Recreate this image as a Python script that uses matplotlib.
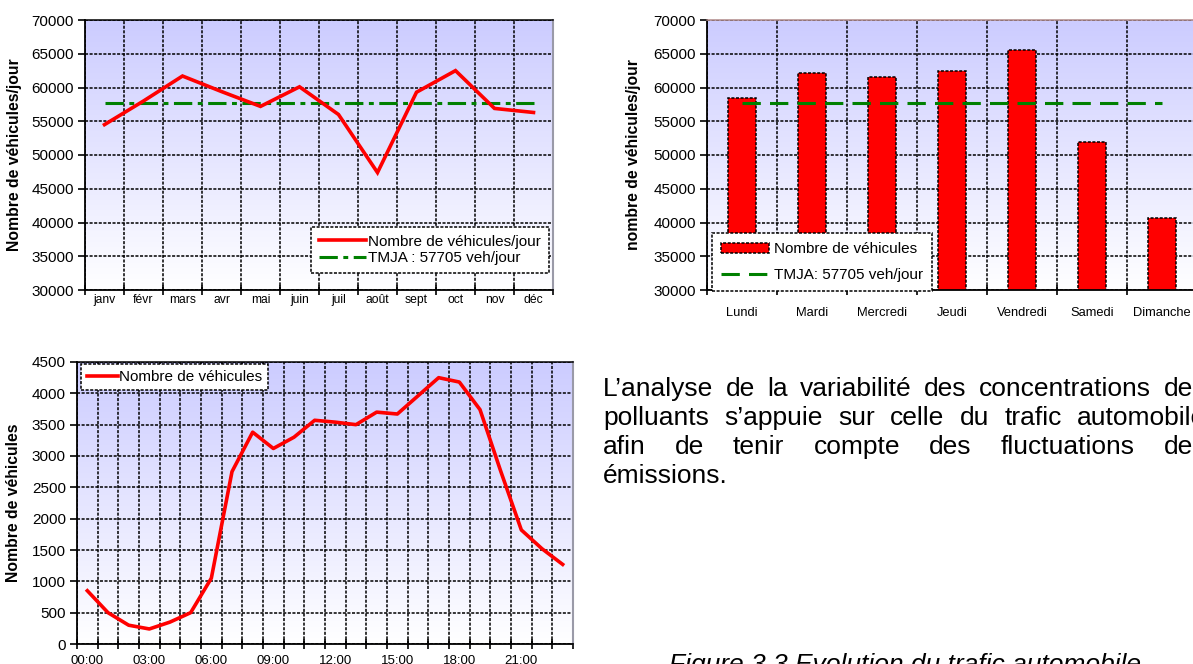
import matplotlib
matplotlib.use('Agg')
import matplotlib.pyplot as plt
import numpy as np

plt.rcParams['font.family'] = ['Liberation Sans', 'DejaVu Sans']

# monthly traffic (Nombre de vehicules/jour)
months = ['janv', 'févr', 'mars', 'avr', 'mai', 'juin', 'juil', 'août', 'sept', 'oct', 'nov', 'déc']
monthly_vehicles = [54500, 58000, 61700, 59400, 57200, 60100, 56000, 47400, 59300, 62500, 56900, 56300]
tmja = 57705

# weekly traffic
days = ['Lundi', 'Mardi', 'Mercredi', 'Jeudi', 'Vendredi', 'Samedi', 'Dimanche']
daily_vehicles = [58500, 62100, 61500, 62400, 65600, 52000, 40700]

# hourly traffic
hours = ['%02d:00' % h for h in range(24)]
hourly_vehicles = [850, 500, 300, 240, 350, 500, 1050, 2750, 3380, 3120, 3300, 3570,
                   3540, 3500, 3700, 3670, 3960, 4250, 4180, 3740, 2760, 1820, 1520, 1270]

paragraph_lines = [
    "L\u2019analyse de la variabilité des concentrations des",
    "polluants s\u2019appuie sur celle du trafic automobile",
    "afin de tenir compte des fluctuations des",
    "émissions.",
]
caption = "Figure 3.3 Evolution du trafic automobile"

W, H = 1193, 664
RED = '#ff0000'
GREEN = '#008000'
GRID_LS = (0, (2, 1))

fig = plt.figure(figsize=(W / 100, H / 100), dpi=100)


def px_axes(x0, y0, x1, y1):
    return fig.add_axes([x0 / W, 1 - y1 / H, (x1 - x0) / W, (y1 - y0) / H])


def px_fig(x, y):
    return (x / W, 1 - y / H)


def setup_axes(ax, labels, ylim, ystep, xlabelsize, xpad, label_every=1):
    n = len(labels)
    # lavender to white gradient like the old excel charts
    t = np.linspace(0, 1, 256)[:, None, None]
    top = np.array([204, 204, 255]) / 255.0
    grad = top * (1 - t) + np.ones(3) * t
    ax.imshow(grad, extent=(0, 1, 0, 1), transform=ax.transAxes, aspect='auto',
              zorder=-1, interpolation='bilinear')
    ax.set_xlim(-0.5, n - 0.5)
    ax.set_ylim(ylim)
    ax.set_xticks(np.arange(n + 1) - 0.5)
    ax.set_xticklabels([])
    idx = np.arange(0, n, label_every)
    ax.set_xticks(idx, minor=True)
    ax.set_xticklabels([labels[i] for i in idx], minor=True)
    yt = np.arange(ylim[0], ylim[1] + 1, ystep)
    ax.set_yticks(yt)
    ax.set_yticklabels([str(v) for v in yt])
    ax.set_axisbelow(True)
    ax.grid(True, which='major', color='black', lw=1.1, ls=GRID_LS)
    ax.tick_params(axis='x', which='major', direction='inout', length=7, width=1.2)
    ax.tick_params(axis='x', which='minor', length=0, labelsize=xlabelsize, pad=xpad)
    ax.tick_params(axis='y', direction='out', length=5, width=1.2, labelsize=11, pad=3)
    for side in ['left', 'bottom']:
        ax.spines[side].set_color('black')
        ax.spines[side].set_linewidth(1.3)
    ax.spines['top'].set_linestyle(GRID_LS)
    ax.spines['top'].set_linewidth(1.1)
    ax.spines['right'].set_color('#9a9aa8')
    ax.spines['right'].set_linewidth(1.5)


def dotted_frame(leg):
    fr = leg.get_frame()
    fr.set_edgecolor('black')
    fr.set_linewidth(1.1)
    fr.set_linestyle(GRID_LS)
    fr.set_facecolor('white')
    fr.set_alpha(1)


# ---- chart 1 : months
ax1 = px_axes(85, 20, 553, 290)
setup_axes(ax1, months, (30000, 70000), 5000, 8.7, 3)
x_m = np.arange(len(months))
ax1.plot(x_m, monthly_vehicles, color=RED, lw=2.6, label='Nombre de véhicules/jour',
         solid_joinstyle='miter', zorder=3)
ax1.plot(x_m, [tmja] * len(months), color=GREEN, lw=2.2, dashes=(6, 1.8, 1.6, 1.8),
         label='TMJA : 57705 veh/jour', zorder=2)
ax1.set_ylabel('Nombre de véhicules/jour', fontsize=11.3, fontweight='bold')
ax1.yaxis.set_label_coords(-0.135, 0.5)
leg1 = ax1.legend(loc='upper right', bbox_to_anchor=px_fig(549, 227), bbox_transform=fig.transFigure,
                  fontsize=11, handlelength=3.1, handletextpad=0.15, labelspacing=0.15,
                  borderpad=0.5, borderaxespad=0, fancybox=False, framealpha=1)
dotted_frame(leg1)

# ---- chart 2 : days of the week
ax2 = px_axes(707, 20, 1197, 290)
setup_axes(ax2, days, (30000, 70000), 5000, 9.3, 12)
x_d = np.arange(len(days))
bars = ax2.bar(x_d, daily_vehicles, width=0.41, color=RED, edgecolor='black', lw=1.1,
               ls=GRID_LS, label='Nombre de véhicules', zorder=2)
tmja_line, = ax2.plot(x_d, [tmja] * len(days), color=GREEN, lw=2.2, dashes=(6, 3),
                      label='TMJA: 57705 veh/jour', zorder=3)
ax2.spines['top'].set_color('#b08a8a')
ax2.set_ylabel('nombre de véhicules/jour', fontsize=11.3, fontweight='bold')
ax2.yaxis.set_label_coords(-0.135, 0.5)
leg2 = ax2.legend(handles=[bars, tmja_line], loc='upper left', bbox_to_anchor=px_fig(712, 233),
                  bbox_transform=fig.transFigure, fontsize=11, handlelength=3.1, handleheight=0.6,
                  handletextpad=0.35, labelspacing=0.75, borderpad=0.6, borderaxespad=0,
                  fancybox=False, framealpha=1)
dotted_frame(leg2)
leg2.set_zorder(5)

# ---- chart 3 : hours of the day
ax3 = px_axes(77, 362, 573, 644)
setup_axes(ax3, hours, (0, 4500), 500, 9.5, 8, label_every=3)
x_h = np.arange(len(hours))
ax3.plot(x_h, hourly_vehicles, color=RED, lw=2.6, label='Nombre de véhicules', zorder=3)
ax3.set_ylabel('Nombre de véhicules', fontsize=11.3, fontweight='bold')
ax3.yaxis.set_label_coords(-0.113, 0.5)
leg3 = ax3.legend(loc='upper left', bbox_to_anchor=px_fig(81, 364), bbox_transform=fig.transFigure,
                  fontsize=11, handlelength=2.0, handletextpad=0.1,
                  borderpad=0.4, borderaxespad=0, fancybox=False, framealpha=1)
dotted_frame(leg3)

# ---- justified paragraph on the right
renderer = fig.canvas.get_renderer()
fs = 19
x_left, x_right = 603, 1206
baseline = 396
line_step = 29
for k, line in enumerate(paragraph_lines):
    words = line.split(' ')
    y = baseline + k * line_step
    texts = [fig.text(0, 0, w, fontsize=fs, va='baseline', ha='left') for w in words]
    widths = [t.get_window_extent(renderer).width for t in texts]
    if k == len(paragraph_lines) - 1 or len(words) == 1:
        gap = 0.278 * fs * 100 / 72
    else:
        gap = (x_right - x_left - sum(widths)) / (len(words) - 1)
    x = x_left
    for t, w in zip(texts, widths):
        t.set_position(px_fig(x, y))
        x += w + gap

fig.text(*px_fig(905, 672), caption, fontsize=19, style='italic', ha='center', va='baseline')

fig.savefig('out.png', dpi=100)
